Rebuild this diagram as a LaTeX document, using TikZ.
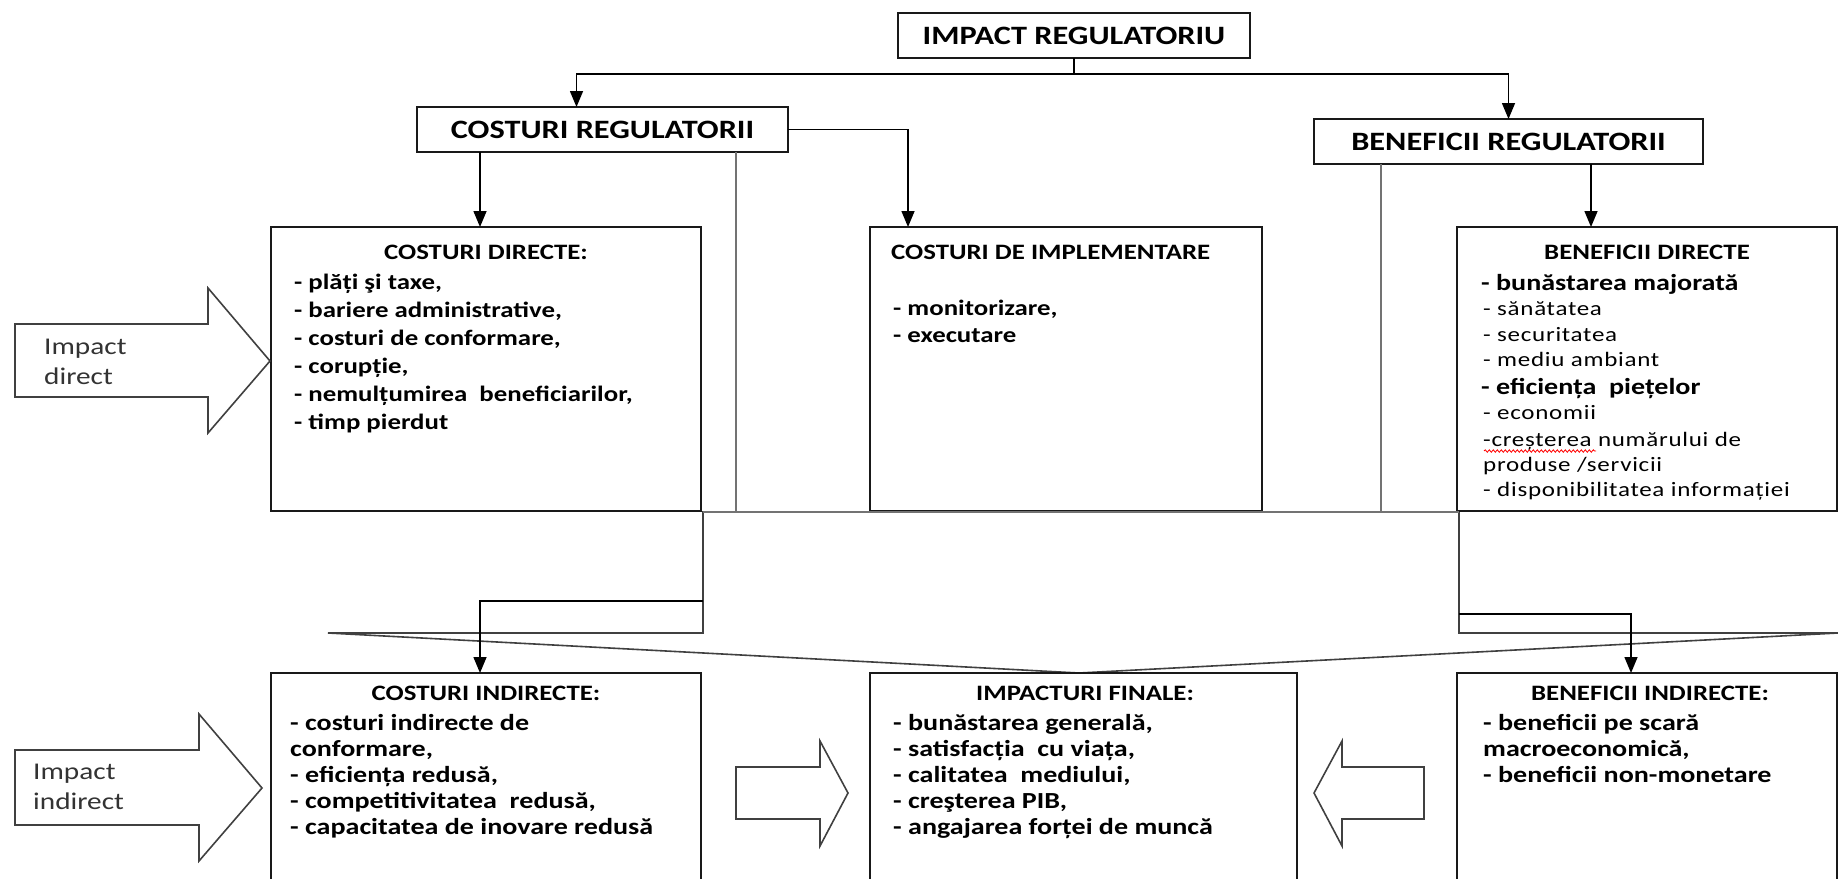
\documentclass[tikz,border=0pt]{standalone}
\usepackage{fontspec}
\setmainfont{Carlito}[FakeStretch=1.22]
\newfontfamily\spacedfont{Carlito}[FakeStretch=1.22, LetterSpace=3.5]
\usetikzlibrary{arrows.meta,decorations.pathmorphing}

\tikzset{
  box/.style={draw=black!90, line width=1.8pt, fill=white, inner sep=0pt, outer sep=0pt, anchor=north west},
  conn/.style={draw=black, line width=1.5pt},
  arr/.style={conn, -{Triangle[length=16pt,width=13pt]}},
  guide/.style={draw=black!55, line width=1.3pt},
  blk/.style={draw=black!75, line width=1.6pt, line join=miter},
  hdr/.style={font=\bfseries\fontsize{26.5}{30}\selectfont},
  ttl/.style={inner sep=0pt, anchor=base, font=\bfseries\fontsize{22}{28}\selectfont},
  ttlb/.style={inner sep=0pt, font=\bfseries\fontsize{22}{28}\selectfont},
  itb/.style={inner sep=0pt, anchor=base west, font=\bfseries\fontsize{22}{28}\selectfont},
  itr/.style={inner sep=0pt, anchor=base west, font=\bfseries\fontsize{23}{28}\selectfont},
  its/.style={inner sep=0pt, anchor=base west, font=\spacedfont\fontsize{20.5}{24}\selectfont},
  itbig/.style={inner sep=0pt, anchor=base west, font=\bfseries\fontsize{23}{28}\selectfont},
  lbl/.style={inner sep=0pt, anchor=base west, text=black!80, font=\fontsize{24}{30}\selectfont},
}

\begin{document}
\begin{tikzpicture}[x=1pt,y=-1pt]
\useasboundingbox (0,0) rectangle (1838,878);
\clip (0,0) rectangle (1838,878);

% big downward block arrow gathering the direct effects
\coordinate (shaftL) at (703,512);
\coordinate (shaftR) at (1459,512);
\draw[blk, fill=white] (shaftL) -- (703,633) -- (328,633) -- (1079,673)
  -- (1838,633) -- (1459,633) -- (shaftR) -- cycle;

% header boxes
\node[box, hdr, minimum width=352pt, minimum height=45pt] (ir) at (898,13) {IMPACT REGULATORIU};
\node[box, hdr, minimum width=371pt, minimum height=45pt] (cr) at (417,107) {COSTURI REGULATORII};
\node[box, hdr, minimum width=389pt, minimum height=45pt] (br) at (1314,119) {BENEFICII REGULATORII};

% upper row
\node[box, minimum width=430pt, minimum height=284pt] (cd) at (271,227) {};
\node[box, minimum width=392pt, minimum height=284pt] (cimp) at (870,227) {};
\node[box, minimum width=380pt, minimum height=284pt] (bd) at (1457,227) {};

% lower row
\node[box, minimum width=430pt, minimum height=220pt] (cind) at (271,673) {};
\node[box, minimum width=427pt, minimum height=220pt] (fin) at (870,673) {};
\node[box, minimum width=380pt, minimum height=220pt] (bind) at (1457,673) {};

% connectors
\coordinate (split) at (ir.south |- 0,74);
\draw[conn] (ir.south) -- (split);
\draw[arr] (split) -| ([xshift=-26pt]cr.north);
\draw[arr] (split) -| (br.north);
\draw[arr] ([xshift=-6pt]cd.north |- cr.south) -- ([xshift=-6pt]cd.north);
\draw[arr] (cr.east) -| ([xshift=38pt]cimp.north west);
\draw[arr] ([xshift=134pt]bd.north west |- br.south) -- ([xshift=134pt]bd.north west);
\draw[guide] ([xshift=319pt]cr.south west) -- ([xshift=319pt]cr.south west |- shaftL);
\draw[guide] ([xshift=67pt]br.south west) -- ([xshift=67pt]br.south west |- shaftR);
\draw[guide] (shaftL) -- (shaftR);

\coordinate (elbL) at (703,601);
\coordinate (elbR) at (1459,614);
\draw[arr] (elbL) -| ([xshift=-6pt]cind.north);
\draw[arr] (elbR) -| ([xshift=-16pt]bind.north);

% side block arrows
\draw[blk] (15,324) -- (208,324) -- (208,288) -- (270,361) -- (208,433)
  -- (208,397) -- (15,397) -- cycle;
\node[lbl] (ld1) at (44,354) {Impact};
\node[lbl] (ld2) at (44,384) {direct};
\draw[blk] (15,750) -- (199,750) -- (199,714) -- (262,788) -- (199,861)
  -- (199,825) -- (15,825) -- cycle;
\node[lbl] (li1) at (33,779) {Impact};
\node[lbl] (li2) at (33,809) {indirect};
\draw[blk] (736,767) -- (820,767) -- (820,741) -- (848,793) -- (820,846)
  -- (820,819) -- (736,819) -- cycle;
\draw[blk] (1424,767) -- (1342,767) -- (1342,741) -- (1314,793) -- (1342,846)
  -- (1342,819) -- (1424,819) -- cycle;

% direct costs
\node[ttl] (cd-t) at (486,259) {COSTURI DIRECTE:};
\foreach \t [count=\i from 0] in {{- plăți şi taxe,},{- bariere administrative,},
  {- costuri de conformare,},{- corupție,},{- nemulțumirea\ \ beneficiarilor,},{- timp pierdut}}
  \node[itb] (cd-\i) at (294,{289+28*\i}) {\t};

% implementation costs
\node[ttlb, anchor=base west] (cimp-t) at (891,259) {COSTURI DE IMPLEMENTARE};
\node[itb] (cimp-1) at (893,315) {- monitorizare,};
\node[itb] (cimp-2) at (893,342) {- executare};

% direct benefits
\node[ttlb, anchor=base] (bd-t) at (1647,259) {BENEFICII DIRECTE};
\node[itbig] (bd-1) at (1481,290) {- bunăstarea majorată};
\node[its] (bd-2) at (1483,315) {- sănătatea};
\node[its] (bd-3) at (1483,341) {- securitatea};
\node[its] (bd-4) at (1483,366) {- mediu ambiant};
\node[itbig] (bd-5) at (1481,394) {- eficiența\ \ piețelor};
\node[its] (bd-6) at (1483,419) {- economii};
\node[its] (bd-7) at (1483,446) {-creșterea numărului de};
\node[its] (bd-8) at (1483,471) {produse /servicii};
\node[its] (bd-9) at (1483,496) {- disponibilitatea informației};
\draw[red, line width=0.8pt, decorate, decoration={snake, amplitude=1.2pt, segment length=4pt}]
  (1484,451) -- (1596,451);

% indirect costs
\node[ttl] (cind-t) at (486,700) {COSTURI INDIRECTE:};
\foreach \t [count=\i from 0] in {{- costuri indirecte de},{conformare,},{- eficiența redusă,},
  {- competitivitatea\ \ redusă,},{- capacitatea de inovare redusă}}
  \node[itr] (cind-\i) at (290,{730+26*\i}) {\t};

% final impacts
\node[ttl] (fin-t) at (1085,700) {IMPACTURI FINALE:};
\foreach \t [count=\i from 0] in {{- bunăstarea generală,},{- satisfacția\ \ cu viața,},
  {- calitatea\ \ mediului,},{- creşterea PIB,},{- angajarea forței de muncă}}
  \node[itr] (fin-\i) at (893,{730+26*\i}) {\t};

% indirect benefits
\node[ttl] (bind-t) at (1650,700) {BENEFICII INDIRECTE:};
\foreach \t [count=\i from 0] in {{- beneficii pe scară},{macroeconomică,},{- beneficii non-monetare}}
  \node[itr] (bind-\i) at (1483,{730+26*\i}) {\t};

\end{tikzpicture}
\end{document}
